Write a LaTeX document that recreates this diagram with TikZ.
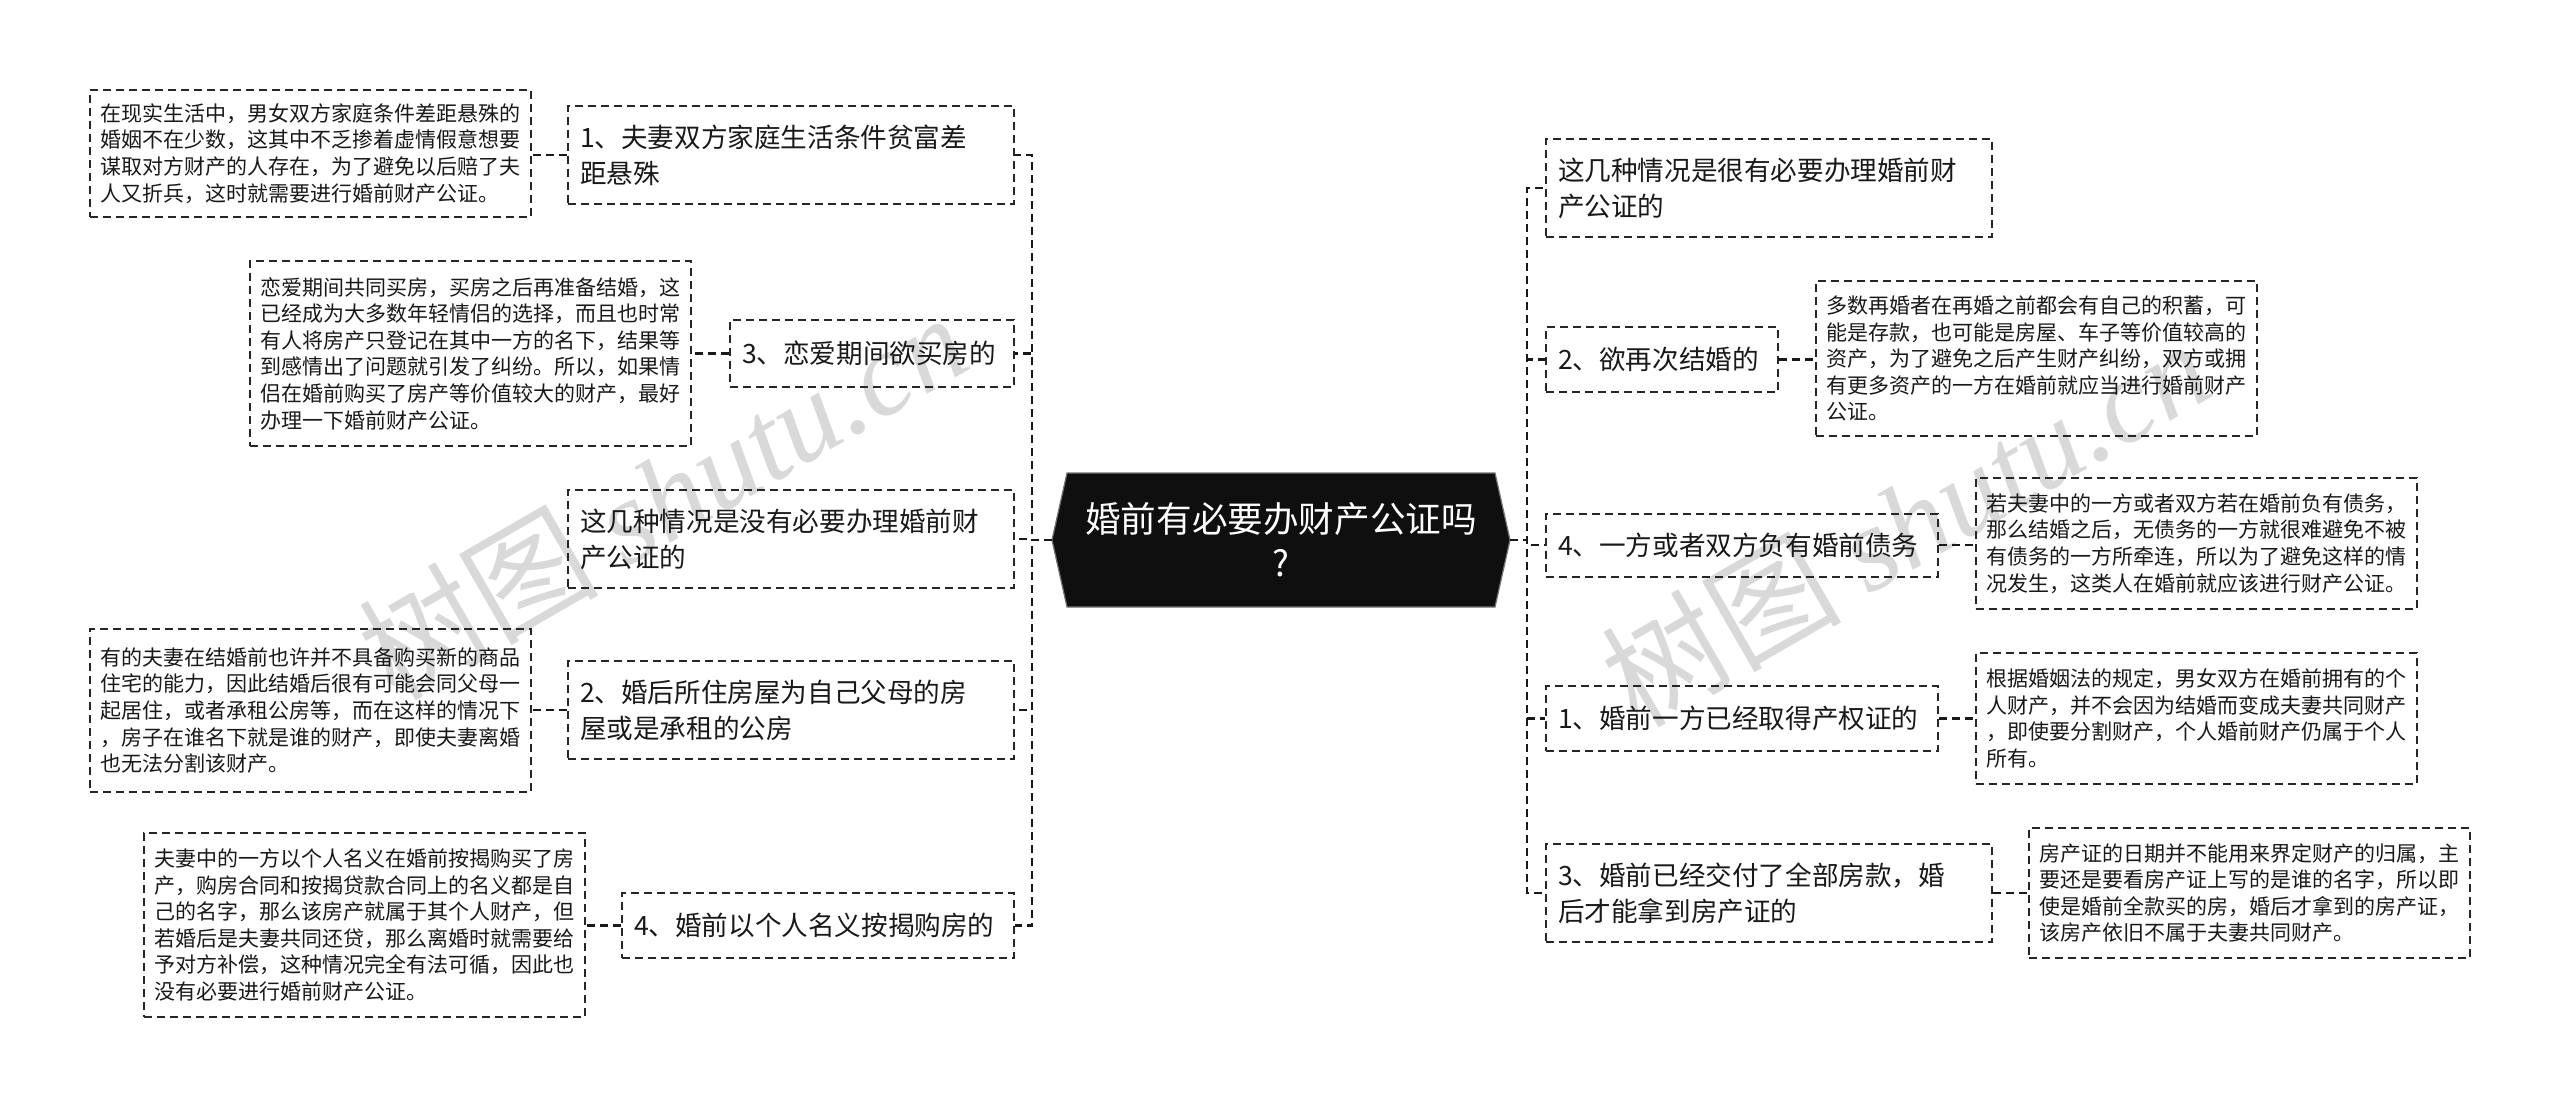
\documentclass[tikz,border=0pt]{standalone}
\usepackage{fontspec}
\setmainfont{Noto Sans CJK SC}
\newfontfamily\wmlatin{Liberation Serif}
\usetikzlibrary{calc}
\begin{document}
\begin{tikzpicture}[x=0.5pt,y=-0.5pt,
 dashln/.style={dash pattern=on 4pt off 2.5pt},
 conn/.style={draw=black!90, line width=1.1pt, dashln},
 boxbase/.style={draw=black!85, line width=1pt, dashln, align=left, anchor=center, text=black!90, inner ysep=0pt},
 detail/.style={boxbase, font=\fontsize{10.5pt}{13.3pt}\selectfont, inner xsep=5.25pt, text width=210pt},
 branch/.style={boxbase, font=\fontsize{13.3pt}{18pt}\selectfont, inner xsep=6pt},
 wmark/.style={rotate=30, text=black!15, font=\fontsize{60pt}{60pt}\selectfont},
]
\useasboundingbox (0,0) rectangle (2560,1107);
\fill[white] (0,0) rectangle (2560,1107);

% watermarks
\node[wmark] (wm1) at (662,495) {树图 {\wmlatin\itshape shutu.cn}};
\node[wmark] (wm2) at (1905,522) {树图 {\wmlatin\itshape shutu.cn}};

% center
\coordinate (cl) at (1052,540);
\coordinate (cr) at (1510,540);
\filldraw[fill=black!94, draw=black!55, line width=0.6pt] (1067,473) -- (1495,473) -- (cr) -- (1495,607) -- (1067,607) -- (cl) -- cycle;
\node[minimum width=214pt, minimum height=67pt, align=center, text=white, font=\fontsize{17.8pt}{22pt}\selectfont] (c) at (1281,540) {婚前有必要办财产公证吗\\?};

% left branches
\node[branch, text width=211pt, minimum height=49pt] (bl1) at (791,155) {1、夫妻双方家庭生活条件贫富差\\距悬殊};
\node[branch, text width=130pt, minimum height=33.5pt] (bl3) at (872,353.5) {3、恋爱期间欲买房的};
\node[branch, text width=211pt, minimum height=49pt] (bln) at (791,539) {这几种情况是没有必要办理婚前财\\产公证的};
\node[branch, text width=211pt, minimum height=49pt] (bl2) at (791,710) {2、婚后所住房屋为自己父母的房\\屋或是承租的公房};
\node[branch, text width=184pt, minimum height=32.5pt] (bl4) at (818,925.5) {4、婚前以个人名义按揭购房的};

% left details
\node[detail, minimum height=63.5pt] (dl1) at (310.5,153.5) {在现实生活中，男女双方家庭条件差距悬殊的\\婚姻不在少数，这其中不乏掺着虚情假意想要\\谋取对方财产的人存在，为了避免以后赔了夫\\人又折兵，这时就需要进行婚前财产公证。};
\node[detail, minimum height=92.5pt] (dl3) at (470.5,353.5) {恋爱期间共同买房，买房之后再准备结婚，这\\已经成为大多数年轻情侣的选择，而且也时常\\有人将房产只登记在其中一方的名下，结果等\\到感情出了问题就引发了纠纷。所以，如果情\\侣在婚前购买了房产等价值较大的财产，最好\\办理一下婚前财产公证。};
\node[detail, minimum height=81.5pt] (dl2) at (310.5,710.5) {有的夫妻在结婚前也许并不具备购买新的商品\\住宅的能力，因此结婚后很有可能会同父母一\\起居住，或者承租公房等，而在这样的情况下\\，房子在谁名下就是谁的财产，即使夫妻离婚\\也无法分割该财产。};
\node[detail, minimum height=92pt] (dl4) at (364.5,925) {夫妻中的一方以个人名义在婚前按揭购买了房\\产，购房合同和按揭贷款合同上的名义都是自\\己的名字，那么该房产就属于其个人财产，但\\若婚后是夫妻共同还贷，那么离婚时就需要给\\予对方补偿，这种情况完全有法可循，因此也\\没有必要进行婚前财产公证。};

% right branches
\node[branch, text width=211pt, minimum height=49pt] (brn) at (1769,188) {这几种情况是很有必要办理婚前财\\产公证的};
\node[branch, text width=104pt, minimum height=32.5pt] (br2) at (1662,359.5) {2、欲再次结婚的};
\node[branch, text width=184pt, minimum height=31.5pt] (br4) at (1742,545) {4、一方或者双方负有婚前债务};
\node[branch, text width=184pt, minimum height=32.5pt] (br1) at (1742,718.5) {1、婚前一方已经取得产权证的};
\node[branch, text width=211pt, minimum height=49pt] (br3) at (1769,893) {3、婚前已经交付了全部房款，婚\\后才能拿到房产证的};

% right details
\node[detail, minimum height=77.5pt] (dr2) at (2036,358.5) {多数再婚者在再婚之前都会有自己的积蓄，可\\能是存款，也可能是房屋、车子等价值较高的\\资产，为了避免之后产生财产纠纷，双方或拥\\有更多资产的一方在婚前就应当进行婚前财产\\公证。};
\node[detail, minimum height=65.5pt] (dr4) at (2196,543.5) {若夫妻中的一方或者双方若在婚前负有债务，\\那么结婚之后，无债务的一方就很难避免不被\\有债务的一方所牵连，所以为了避免这样的情\\况发生，这类人在婚前就应该进行财产公证。};
\node[detail, minimum height=65.5pt] (dr1) at (2196,718.5) {根据婚姻法的规定，男女双方在婚前拥有的个\\人财产，并不会因为结婚而变成夫妻共同财产\\，即使要分割财产，个人婚前财产仍属于个人\\所有。};
\node[detail, minimum height=65pt] (dr3) at (2249.5,893) {房产证的日期并不能用来界定财产的归属，主\\要还是要看房产证上写的是谁的名字，所以即\\使是婚前全款买的房，婚后才拿到的房产证，\\该房产依旧不属于夫妻共同财产。};

% trunks
\coordinate (lj) at (1032,540);
\coordinate (rj) at (1527,540);
\foreach \n in {bl1,bl3,bln,bl2,bl4}{
  \draw[conn] (cl) -- (lj) |- (\n.east);
}
\foreach \n in {brn,br2,br4,br1,br3}{
  \draw[conn] (cr) -- (rj) |- (\n.west);
}

% detail connectors
\draw[conn] (bl1.west) -- (bl1.west -| dl1.east);
\draw[conn] (bl3.west) -- (bl3.west -| dl3.east);
\draw[conn] (bl2.west) -- (bl2.west -| dl2.east);
\draw[conn] (bl4.west) -- (bl4.west -| dl4.east);
\draw[conn] (br2.east) -- (br2.east -| dr2.west);
\draw[conn] (br4.east) -- (br4.east -| dr4.west);
\draw[conn] (br1.east) -- (br1.east -| dr1.west);
\draw[conn] (br3.east) -- (br3.east -| dr3.west);
\end{tikzpicture}
\end{document}
